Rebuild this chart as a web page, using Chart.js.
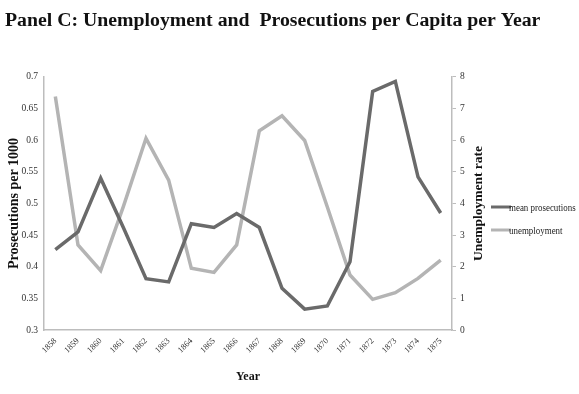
<!DOCTYPE html>
<html>
<head>
<meta charset="utf-8">
<script src="https://cdn.jsdelivr.net/npm/chart.js@4"></script>
<style>
  html, body { margin: 0; padding: 0; background: #fff; }
  #wrap { width: 579px; height: 394px; position: relative; }
</style>
</head>
<body>
<div id="wrap"><canvas id="chart"></canvas></div>
<script>
const years = ["1858","1859","1860","1861","1862","1863","1864","1865","1866","1867","1868","1869","1870","1871","1872","1873","1874","1875"];
const prosecutions = [0.427, 0.455, 0.540, 0.462, 0.381, 0.376, 0.468, 0.462, 0.484, 0.462, 0.366, 0.333, 0.338, 0.408, 0.677, 0.693, 0.542, 0.485];
const unemployment = [7.38, 2.69, 1.88, 3.9, 6.06, 4.74, 1.95, 1.82, 2.69, 6.30, 6.77, 5.99, 3.89, 1.74, 0.97, 1.18, 1.63, 2.21];

const serif = "'Liberation Serif', 'DejaVu Serif', serif";
const darkGrey = "#6a6a6a";
const lightGrey = "#b4b4b4";
const axisGrey = "#bdbdbd";

// legend to the right of the unemployment axis, plus the upward-reading right axis title
const sideLegend = {
  id: "sideLegend",
  afterDraw(chart) {
    const ctx = chart.ctx;
    const area = chart.chartArea;
    const x0 = 491;
    const rows = [207, 230];
    ctx.save();
    ctx.textBaseline = "middle";
    ctx.textAlign = "left";
    chart.data.datasets.forEach((ds, i) => {
      ctx.strokeStyle = ds.borderColor;
      ctx.lineWidth = 3;
      ctx.beginPath();
      ctx.moveTo(x0, rows[i]);
      ctx.lineTo(x0 + 20, rows[i]);
      ctx.stroke();
      ctx.save();
      ctx.translate(x0 + 18, rows[i] + 1);
      ctx.scale(0.85, 1);
      ctx.font = "10.5px " + serif;
      ctx.fillStyle = "#222";
      ctx.fillText(ds.label, 0, 0);
      ctx.restore();
    });

    ctx.translate(479, (area.top + area.bottom) / 2);
    ctx.rotate(-Math.PI / 2);
    ctx.textAlign = "center";
    ctx.font = "bold 13.5px " + serif;
    ctx.fillStyle = "#111";
    ctx.fillText("Unemployment rate", 0, 0);
    ctx.restore();
  }
};

new Chart(document.getElementById("chart"), {
  type: "line",
  data: {
    labels: years,
    datasets: [
      { label: "mean prosecutions", data: prosecutions, yAxisID: "y",
        borderColor: darkGrey, borderWidth: 3.5, pointRadius: 0, tension: 0 },
      { label: "unemployment", data: unemployment, yAxisID: "y1",
        borderColor: lightGrey, borderWidth: 3.5, pointRadius: 0, tension: 0 }
    ]
  },
  options: {
    responsive: true,
    maintainAspectRatio: false,
    animation: false,
    layout: { padding: { left: 5, right: 0, top: 0, bottom: 0 } },
    plugins: {
      legend: { display: false },
      tooltip: { enabled: false },
      title: {
        display: true,
        text: "Panel C: Unemployment and  Prosecutions per Capita per Year",
        align: "start",
        color: "#111",
        font: { family: serif, size: 19.8, weight: "bold" },
        padding: { top: 9, bottom: 44.2 }
      }
    },
    scales: {
      x: {
        offset: true,
        grid: { display: false, drawTicks: false },
        border: { color: axisGrey, width: 1.5 },
        ticks: { color: "#333", font: { family: serif, size: 8.5 }, minRotation: 45, maxRotation: 45, padding: 6 },
        title: { display: true, text: "Year", color: "#111", font: { family: serif, size: 12, weight: "bold" }, padding: { top: 2, bottom: 10 } },
        afterFit: (s) => { s.height = 64; }
      },
      y: {
        position: "left",
        min: 0.3, max: 0.7,
        grid: { display: false, drawTicks: false },
        border: { color: axisGrey, width: 1.5 },
        ticks: { stepSize: 0.05, color: "#333", font: { family: serif, size: 9.5 }, padding: 6,
          callback: (v) => String(Number(v.toFixed(2))) },
        title: { display: true, text: "Prosecutions per 1000", color: "#111", font: { family: serif, size: 14, weight: "bold" }, padding: { top: 1 } },
        afterFit: (s) => { s.width = 39; }
      },
      y1: {
        position: "right",
        min: 0, max: 8,
        grid: { drawOnChartArea: false, color: axisGrey, tickLength: 4 },
        border: { color: axisGrey, width: 1.5 },
        ticks: { stepSize: 1, color: "#333", font: { family: serif, size: 9.5 }, padding: 4 },
        afterFit: (s) => { s.width = 127; }
      }
    }
  },
  plugins: [sideLegend]
});
</script>
</body>
</html>
